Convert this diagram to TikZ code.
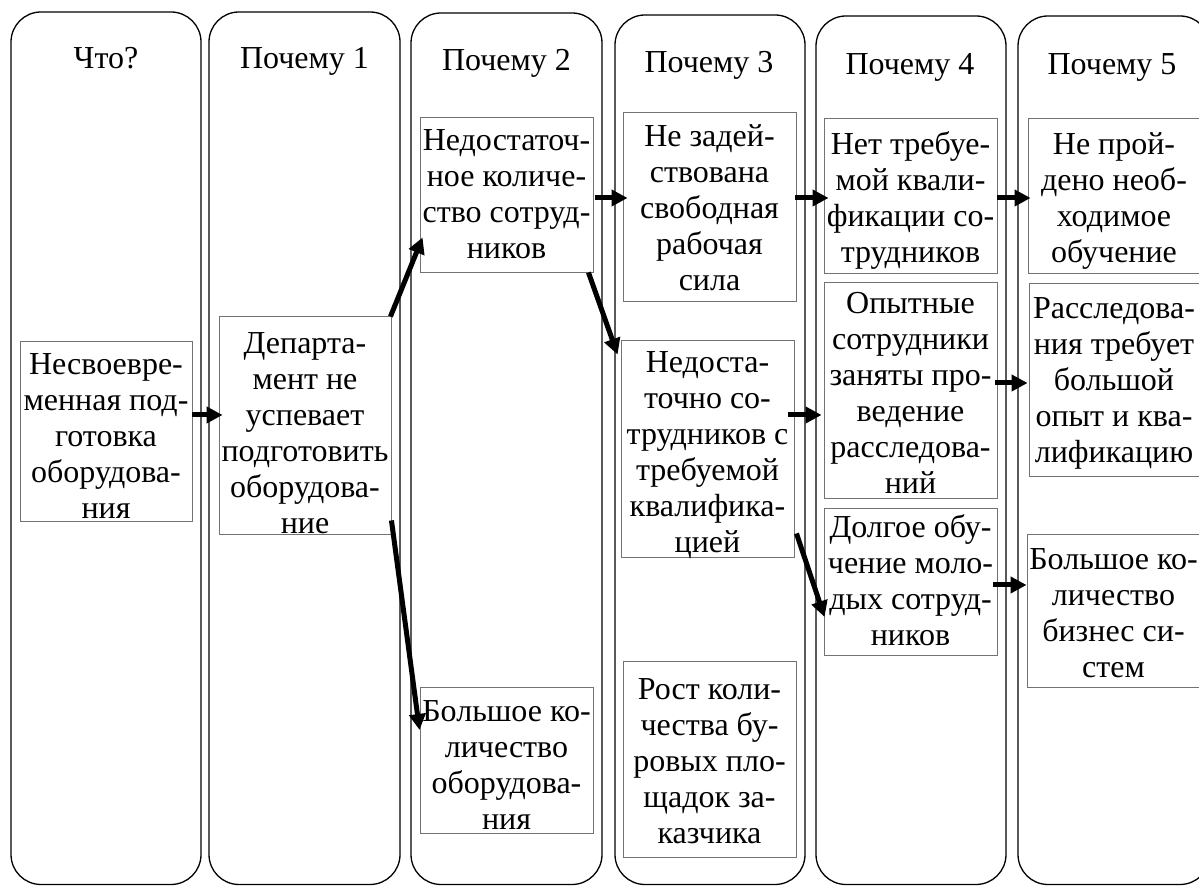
\documentclass[tikz,border=0pt]{standalone}
\usepackage{fontspec}
\setmainfont{Liberation Serif}
\usetikzlibrary{arrows.meta}
\newcommand\fl{\rule{0pt}{25pt}}
\begin{document}
\fontsize{32}{36}\selectfont
\begin{tikzpicture}[x=1pt,y=1pt,
  colbox/.style={draw=black, line width=1.3pt, rounded corners=30pt, rectangle, inner sep=0pt},
  box/.style={draw=black!55, line width=0.9pt, fill=white, rectangle, inner sep=0pt},
  txt/.style={align=center, inner sep=0pt, anchor=north},
  ttl/.style={inner sep=0pt, anchor=base},
  arr/.style={line width=5pt, -{Triangle[length=16pt,width=16pt]}}]
\useasboundingbox (0,0) rectangle (1199,886);
\begin{scope}
\clip (0,0) rectangle (1199,886);
% columns
\node[colbox, minimum width=190pt, minimum height=872.5pt] (c1) at (106,437.75) {};
\node[colbox, minimum width=191pt, minimum height=872.5pt] (c2) at (304.5,437.75) {};
\node[colbox, minimum width=191pt, minimum height=871.5pt] (c3) at (506.5,437.25) {};
\node[colbox, minimum width=190pt, minimum height=869.5pt] (c4) at (710,436.25) {};
\node[colbox, minimum width=190pt, minimum height=868.5pt] (c5) at (911,435.75) {};
\node[colbox, minimum width=192pt, minimum height=868.5pt] (c6) at (1114,435.75) {};
% boxes
\node[box, minimum width=172pt, minimum height=180pt] (A) at (106,455) {};
\node[box, minimum width=172pt, minimum height=218pt] (B) at (305,461) {};
\node[box, minimum width=173pt, minimum height=155pt] (C) at (506.5,691.5) {};
\node[box, minimum width=173pt, minimum height=146pt] (D) at (506.5,126) {};
\node[box, minimum width=173pt, minimum height=189pt] (E) at (709.5,679.5) {};
\node[box, minimum width=173pt, minimum height=217pt] (F) at (707.5,437.5) {};
\node[box, minimum width=173pt, minimum height=196pt] (K) at (709.5,127) {};
\node[box, minimum width=173pt, minimum height=155pt] (L) at (910.5,690.5) {};
\node[box, minimum width=173pt, minimum height=216pt] (G) at (910.5,496) {};
\node[box, minimum width=173pt, minimum height=147pt] (H) at (910.5,304.5) {};
\node[box, minimum width=174pt, minimum height=155pt] (M) at (1115,690.5) {};
\node[box, minimum width=173pt, minimum height=193pt] (I) at (1115.5,506.5) {};
\node[box, minimum width=175pt, minimum height=153pt] (J) at (1114.5,275.5) {};
\end{scope}
% titles
\node[ttl] (t1) at (106,817) {Что?};
\node[ttl] (t2) at (304.5,817) {Почему 1};
\node[ttl] (t3) at (506.5,815) {Почему 2};
\node[ttl] (t4) at (709,813) {Почему 3};
\node[ttl] (t5) at (910,811) {Почему 4};
\node[ttl] (t6) at (1112,811) {Почему 5};
% texts
\node[txt] (tA) at (106,537) {\fl Несвоевре-\\менная под-\\готовка\\оборудова-\\ния};
\node[txt] (tB) at (305,558) {\fl Департа-\\мент не\\успевает\\подготовить\\оборудова-\\ние};
\node[txt] (tC) at (506.5,761) {\fl Недостаточ-\\ное количе-\\ство сотруд-\\ников};
\node[txt] (tD) at (506.5,190) {\fl Большое ко-\\личество\\оборудова-\\ния};
\node[txt] (tE) at (709.5,765) {\fl Не задей-\\ствована\\свободная\\рабочая\\сила};
\node[txt] (tF) at (707.5,539) {\fl Недоста-\\точно со-\\трудников с\\требуемой\\квалифика-\\цией};
\node[txt] (tK) at (709.5,212) {\fl Рост коли-\\чества бу-\\ровых пло-\\щадок за-\\казчика};
\node[txt] (tL) at (910.5,757) {\fl Нет требуе-\\мой квали-\\фикации со-\\трудников};
\node[txt] (tG) at (910.5,598) {\fl Опытные\\сотрудники\\заняты про-\\ведение\\расследова-\\ний};
\node[txt] (tH) at (910.5,374) {\fl Долгое обу-\\чение моло-\\дых сотруд-\\ников};
\node[txt] (tM) at (1114,757) {\fl Не прой-\\дено необ-\\ходимое\\обучение};
\node[txt] (tI) at (1114,593) {\fl Расследова-\\ния требует\\большой\\опыт и ква-\\лификацию};
\node[txt] (tJ) at (1113.5,342) {\fl Большое ко-\\личество\\бизнес си-\\стем};
% arrows
\draw[arr] ([yshift=16pt]A.east) -- ([xshift=4pt,yshift=10pt]B.west);
\draw[arr] ([xshift=-1pt,yshift=-1pt]B.north east) -- ([xshift=3pt,yshift=35pt]C.south west);
\draw[arr] ([yshift=14pt]B.south east) -- ([yshift=30pt]D.west);
\draw[arr] ([xshift=2pt,yshift=-3.5pt]C.east) -- ([xshift=5pt,yshift=8.5pt]E.west);
\draw[arr] ([xshift=-5pt]C.south east) -- ([xshift=-3pt,yshift=-15pt]F.north west);
\draw[arr] ([xshift=-1pt,yshift=8.5pt]E.east) -- ([xshift=5pt,yshift=-2.5pt]L.west);
\draw[arr] ([yshift=-2.5pt]L.east) -- ([xshift=3pt,yshift=-2.5pt]M.west);
\draw[arr] ([xshift=-6pt,yshift=33.5pt]F.east) -- ([xshift=-2pt,yshift=-25pt]G.west);
\draw[arr] ([xshift=-2pt,yshift=7pt]G.east) -- ([xshift=-1pt,yshift=-3.5pt]I.west);
\draw[arr] ([xshift=2pt,yshift=24pt]F.south east) -- ([xshift=1pt,yshift=-35.5pt]H.west);
\draw[arr] ([xshift=-4pt,yshift=-3.5pt]H.east) -- ([yshift=25.5pt]J.west);
\end{tikzpicture}
\end{document}
